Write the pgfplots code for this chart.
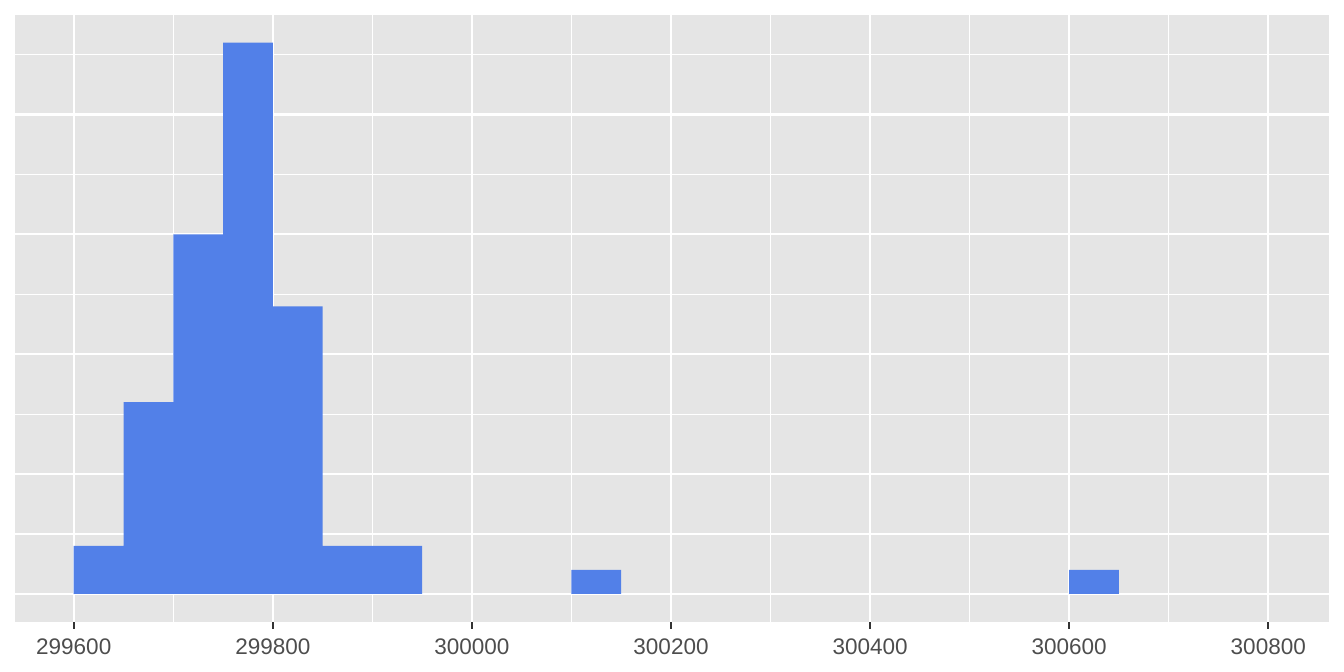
\documentclass[border=0pt]{standalone}
\usepackage{fontspec}
\setmainfont{Liberation Sans}
\usepackage{pgfplots}
\pgfplotsset{compat=1.18}
\definecolor{panel}{HTML}{E5E5E5}
\definecolor{barblue}{HTML}{5280E8}
\definecolor{ticktext}{HTML}{4D4D4D}
\definecolor{tickmark}{HTML}{333333}

\pgfplotstableread{
x      y
299625 2
299675 8
299725 15
299775 23
299825 12
299875 2
299925 2
300125 1
300625 1
}\bins

\begin{document}
\begin{tikzpicture}
\path[use as bounding box] (-7.5bp,-25.25bp) rectangle (664.5bp,310.75bp);
\begin{axis}[
  at={(0,0)}, anchor=south west,
  scale only axis, width=657bp, height=303.25bp,
  xmin=299541, xmax=300861, ymin=-1.15, ymax=24.15,
  axis line style={draw=none},
  axis background/.style={fill=panel},
  xtick={299600,299800,...,300800},
  minor xtick={299700,299900,...,300700},
  ytick={0,5,10,15,20},
  minor ytick={2.5,7.5,12.5,17.5,22.5},
  yticklabels={},
  xmajorgrids=false, xminorgrids=true,
  ymajorgrids=true, yminorgrids=true,
  major grid style={white, line width=1.1bp},
  minor grid style={white, line width=0.55bp},
  xtick pos=lower,
  xtick align=outside,
  major tick length=3.5bp,
  minor tick length=0pt,
  xtick style={draw=tickmark, line width=1bp},
  ytick style={draw=none},
  xticklabel style={inner sep=0pt, text=ticktext, font=\fontsize{11.3}{13}\selectfont},
  xticklabel shift=5bp,
  scaled x ticks=false,
  xticklabel={\pgfmathprintnumber[fixed, 1000 sep={}, assume math mode=true]{\tick}},
  extra x ticks={299600,299800,...,300800},
  extra x tick labels={},
  extra x tick style={grid=major, major tick length=0pt},
]
\addplot[ybar, bar width=50, bar shift=0pt, fill=barblue, draw=none] table[x=x,y=y] {\bins};
\end{axis}
\end{tikzpicture}
\end{document}
